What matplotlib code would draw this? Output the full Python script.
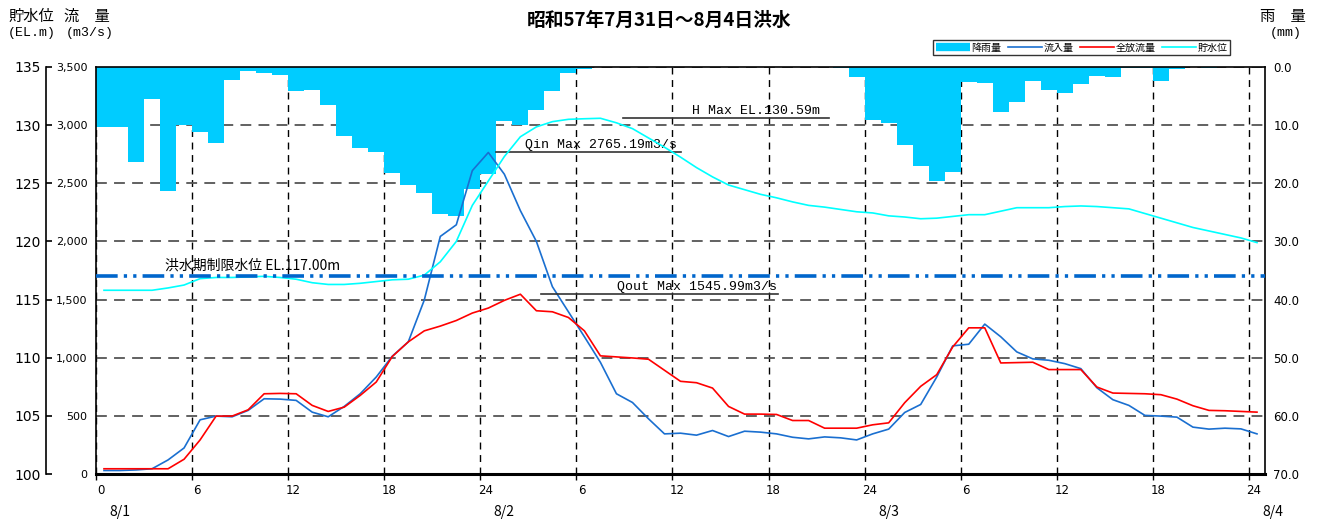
import numpy as np
import matplotlib
matplotlib.use('Agg')
import matplotlib.pyplot as plt
from matplotlib.lines import Line2D
from matplotlib.transforms import ScaledTranslation, blended_transform_factory

JP = ['Noto Sans CJK JP', 'DejaVu Sans']
NUM = ['Liberation Sans Narrow', 'DejaVu Sans']
MONO = ['Liberation Mono', 'DejaVu Sans Mono']

# hourly data, 8/1 0:00 -> 8/3 24:00
hours = np.arange(73)
rain = [10.4, 10.4, 16.3, 5.5, 21.3, 10.0, 11.1, 13.1, 2.2, 0.7,
        1.0, 1.4, 4.1, 4.0, 6.5, 11.9, 13.9, 14.6, 18.3, 20.3,
        21.6, 25.3, 25.6, 21.0, 18.4, 9.3, 9.9, 7.4, 4.1, 1.0,
        0.3, 0, 0, 0, 0, 0, 0, 0, 0, 0,
        0, 0, 0, 0, 0, 0, 0.2, 1.8, 9.1, 9.6,
        13.5, 17.1, 19.6, 18.0, 2.6, 2.7, 7.7, 6.0, 2.4, 3.9,
        4.4, 2.9, 1.5, 1.8, 0.2, 0.1, 2.4, 0.4, 0.0, 0.2,
        0, 0, 0]
inflow = [30, 30, 35, 45, 121, 224, 466, 498, 492, 547,
          647, 644, 633, 532, 492, 581, 690, 834, 1013, 1136,
          1496, 2043, 2143, 2609, 2765, 2578, 2265, 2000, 1611, 1395,
          1180, 960, 690, 615, 475, 345, 351, 334, 374, 322,
          368, 360, 345, 316, 302, 319, 311, 293, 345, 386,
          529, 598, 834, 1102, 1116, 1289, 1180, 1050, 990, 978,
          949, 906, 742, 639, 590, 504, 498, 489, 403, 386,
          394, 388, 345]
outflow = [45, 45, 45, 45, 45, 127, 293, 498, 498, 552,
           690, 693, 690, 590, 538, 575, 676, 791, 1010, 1136,
           1231, 1272, 1320, 1384, 1427, 1493, 1546, 1404, 1395, 1346,
           1231, 1016, 1007, 998, 987, 892, 797, 785, 739, 581,
           515, 515, 512, 460, 460, 394, 394, 394, 423, 440,
           613, 754, 854, 1093, 1257, 1257, 955, 958, 961, 898,
           898, 898, 748, 696, 693, 690, 682, 644, 587, 547,
           544, 538, 532]
level = [115.8, 115.8, 115.8, 115.8, 116.0, 116.25, 116.8, 116.9, 116.9, 116.95,
         117.0, 116.9, 116.75, 116.45, 116.3, 116.3, 116.4, 116.55, 116.7, 116.75,
         117.1, 118.25, 120.0, 123.1, 125.2, 127.3, 129.0, 129.85, 130.3, 130.5,
         130.55, 130.59, 130.2, 129.7, 128.9, 128.1, 127.25, 126.35, 125.55, 124.85,
         124.45, 124.05, 123.75, 123.4, 123.1, 122.95, 122.75, 122.55, 122.45, 122.2,
         122.1, 121.95, 122.0, 122.15, 122.3, 122.3, 122.6, 122.9, 122.9, 122.9,
         123.0, 123.05, 123.0, 122.9, 122.8, 122.4, 122.0, 121.6, 121.2, 120.9,
         120.6, 120.3, 119.9]

xtick_pos = list(range(0, 73, 6))
xtick_labels = ['0', '6', '12', '18', '24', '6', '12', '18', '24', '6', '12', '18', '24']
day_pos = [1.5, 25.5, 49.5, 73.5]
day_labels = ['8/1', '8/2', '8/3', '8/4']

limit_level = 117.0
h_max = 130.59
qin_max = 2765.19
qout_max = 1545.99

W, H = 1324, 523
fig = plt.figure(figsize=(W / 100, H / 100), dpi=100)
rect = [96 / W, 1 - 474 / H, (1265 - 96) / W, (474 - 67) / H]

# rain axis (bottom layer: grid + bars)
ax_r = fig.add_axes(rect)
ax = fig.add_axes(rect, sharex=ax_r)
ax_el = fig.add_axes(rect, sharex=ax_r)
ax_r.set_zorder(1)
ax.set_zorder(2)
ax_el.set_zorder(3)
ax.patch.set_visible(False)
ax_el.patch.set_visible(False)

ax_r.bar(hours, rain, width=1.0, align='edge', color='#00CCFF', linewidth=0, zorder=2)
ax_r.set_xlim(0, 73)
ax_r.set_ylim(70, 0)
ax_r.yaxis.tick_right()
ax_r.set_yticks(range(0, 71, 10))
ax_r.set_yticklabels(['%.1f' % v for v in range(0, 71, 10)], family=NUM, fontsize=8.5)
ax_r.tick_params(axis='y', length=0, pad=6)
ax_r.set_xticks(xtick_pos)
ax_r.set_xticklabels(xtick_labels, family=NUM, fontsize=8.5)
ax_r.tick_params(axis='x', direction='out', length=4, width=1, pad=3)
for lab in ax_r.get_xticklabels():
    lab.set_transform(lab.get_transform() + ScaledTranslation(5 / 100, 0, fig.dpi_scale_trans))
ax_r.set_axisbelow(True)
ax_r.xaxis.grid(True, color='black', linestyle=(0, (5, 4)), linewidth=1.0)
ax_r.yaxis.grid(True, color='#555555', linestyle=(0, (6, 4)), linewidth=1.3)
for s in ['top', 'left', 'right']:
    ax_r.spines[s].set_linewidth(1.2)
ax_r.spines['bottom'].set_linewidth(2.2)

# flow axis
ax.plot(hours + 0.5, inflow, color='#1A6FD0', lw=1.2)
ax.plot(hours + 0.5, outflow, color='#FF0000', lw=1.2)
ax.set_ylim(0, 3500)
ax.set_yticks(range(0, 3501, 500))
ax.set_yticklabels(['{:,}'.format(v) for v in range(0, 3501, 500)], family=NUM, fontsize=8)
ax.tick_params(axis='y', length=0, pad=6)
ax.xaxis.set_visible(False)
for s in ax.spines.values():
    s.set_visible(False)

# elevation axis
ax_el.plot(hours + 0.5, level, color='#00FFFF', lw=1.2)
ax_el.set_ylim(100, 135)
ax_el.set_yticks(range(100, 136, 5))
ax_el.set_yticklabels([str(v) for v in range(100, 136, 5)], family=NUM, fontsize=8)
ax_el.tick_params(axis='y', direction='in', length=4.5, width=1.2, pad=4)
ax_el.xaxis.set_visible(False)
for s in ['top', 'right', 'bottom']:
    ax_el.spines[s].set_visible(False)
ax_el.spines['left'].set_position(('outward', 36))
ax_el.spines['left'].set_linewidth(1.2)

ax_el.axhline(limit_level, color='#0066CC', lw=2.6, linestyle=(0, (6, 1.7, 0.9, 1.7, 0.9, 1.7)))
ax_el.annotate('洪水期制限水位 EL.117.00m', (4.3, limit_level), xytext=(0, 3),
               textcoords='offset points', ha='left', va='bottom', family=JP, fontsize=10)

# max annotations
ax_el.plot([32.9, 45.75], [h_max, h_max], color='#333333', lw=1.2)
ax_el.annotate('H Max EL.130.59m', (45.2, h_max), xytext=(0, 1), textcoords='offset points',
               ha='right', va='bottom', family=MONO, fontsize=9.5)
ax.plot([25.0, 36.5], [qin_max, qin_max], color='#333333', lw=1.2)
ax.annotate('Qin Max 2765.19m3/s', (36.3, qin_max), xytext=(0, 1), textcoords='offset points',
            ha='right', va='bottom', family=MONO, fontsize=9.5)
ax.plot([27.8, 42.6], [qout_max, qout_max], color='#333333', lw=1.2)
ax.annotate('Qout Max 1545.99m3/s', (42.5, qout_max), xytext=(0, 1), textcoords='offset points',
            ha='right', va='bottom', family=MONO, fontsize=9.5)

# day labels
trans = blended_transform_factory(ax_r.transData, ax_r.transAxes)
for x, t in zip(day_pos, day_labels):
    ax_r.text(x, -0.093, t, transform=trans, ha='center', va='center',
              family=JP, fontsize=10, clip_on=False)

# header texts
fig.text(659 / W, 1 - 20 / H, '昭和57年7月31日～8月4日洪水', ha='center', va='center',
         family=JP, fontsize=13.5, fontweight='bold')
fig.text(8 / W, 1 - 16 / H, '貯水位', ha='left', va='center', family=JP, fontsize=11)
fig.text(64 / W, 1 - 16 / H, '流　量', ha='left', va='center', family=JP, fontsize=11)
fig.text(8 / W, 1 - 33 / H, '(EL.m)', ha='left', va='center', family=MONO, fontsize=9.5)
fig.text(66 / W, 1 - 33 / H, '(m3/s)', ha='left', va='center', family=MONO, fontsize=9.5)
fig.text(1260 / W, 1 - 16 / H, '雨　量', ha='left', va='center', family=JP, fontsize=11)
fig.text(1270 / W, 1 - 33 / H, '(mm)', ha='left', va='center', family=MONO, fontsize=9.5)

handles = [Line2D([], [], color='#00CCFF', lw=6, solid_capstyle='butt'),
           Line2D([], [], color='#1A6FD0', lw=1.2),
           Line2D([], [], color='#FF0000', lw=1.2),
           Line2D([], [], color='#00FFFF', lw=1.2)]
leg = fig.legend(handles, ['降雨量', '流入量', '全放流量', '貯水位'], ncol=4,
                 loc='upper right', bbox_to_anchor=(1230 / W, 1 - 40 / H),
                 prop={'family': JP, 'size': 7.2}, frameon=True, fancybox=False,
                 edgecolor='black', borderpad=0.25, handlelength=3.4,
                 handletextpad=0.2, columnspacing=0.6, borderaxespad=0)
leg.get_frame().set_linewidth(1.0)

fig.savefig('out.png', dpi=100)
